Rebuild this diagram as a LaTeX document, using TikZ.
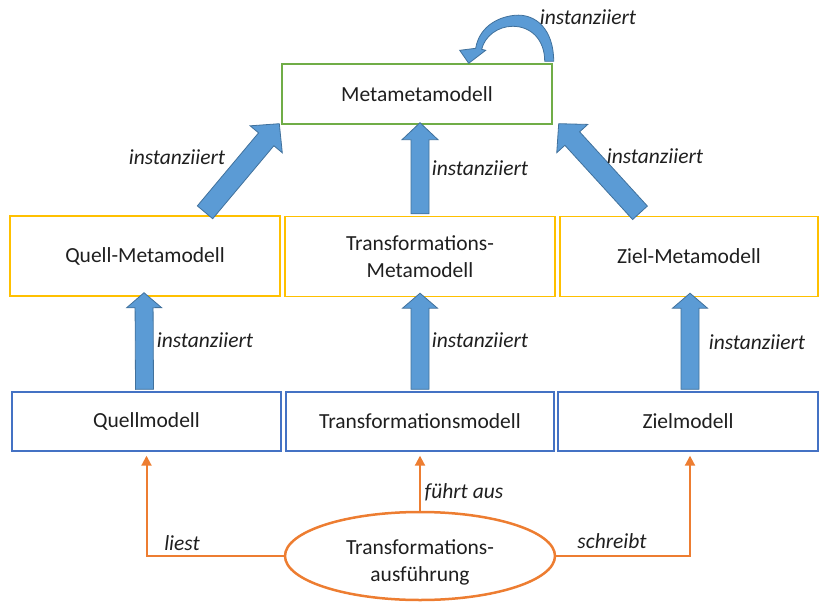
\documentclass[tikz,border=0pt]{standalone}
\usepackage{fontspec}
\setmainfont{Carlito}
\usetikzlibrary{shapes.geometric,calc,arrows.meta}
\definecolor{mmgreen}{HTML}{70AD47}
\definecolor{metayellow}{HTML}{FFC000}
\definecolor{modelblue}{HTML}{4472C4}
\definecolor{runorange}{HTML}{ED7D31}
\definecolor{arrowfill}{HTML}{5B9BD5}
\definecolor{arrowedge}{HTML}{41719C}
\definecolor{txt}{HTML}{1F1F1F}

% broad block arrow from #1 to #2: shaft half width #3, head half width #4, head length #5
\newcommand\blockarrow[5]{%
  \draw[blockarr] let \p1=(#1), \p2=(#2),
      \n1={atan2(\y2-\y1,\x2-\x1)}, \n2={veclen(\x2-\x1,\y2-\y1)} in
    ($(\p1)+(\n1+90:#3)$) -- ($(\p1)+(\n1:\n2-#5)+(\n1+90:#3)$)
    -- ($(\p1)+(\n1:\n2-#5)+(\n1+90:#4)$) -- (\p2)
    -- ($(\p1)+(\n1:\n2-#5)+(\n1-90:#4)$) -- ($(\p1)+(\n1:\n2-#5)+(\n1-90:#3)$)
    -- ($(\p1)+(\n1-90:#3)$) -- cycle;}

\begin{document}
\begin{tikzpicture}[x=1pt,y=-1pt,
  font=\fontsize{21.5}{27}\selectfont, text=txt,
  box/.style={draw, rectangle, line width=1.4pt, align=center, inner sep=0pt},
  lbl/.style={font=\fontsize{21.5}{27}\selectfont\itshape, inner sep=0pt},
  blockarr/.style={fill=arrowfill, draw=arrowedge, line width=0.8pt, line join=miter},
  runarr/.style={draw=runorange, line width=2pt,
    -{Triangle[length=10pt,width=10pt]}, shorten >=4pt}]
\useasboundingbox (0,0) rectangle (820,608);

% boxes
\node[box, draw=mmgreen, minimum width=270pt, minimum height=60pt] (mm) at (417,94) {Metametamodell};

\node[box, draw=metayellow, minimum width=270pt, minimum height=80pt] (qmm) at (145,256) {Quell-Metamodell};
\node[box, draw=metayellow, minimum width=270pt, minimum height=80pt] (tmm) at (420,256.5) {Transformations-\\Metamodell};
\node[box, draw=metayellow, minimum width=258pt, minimum height=80pt] (zmm) at (689,256.5) {Ziel-Metamodell};

\node[box, draw=modelblue, minimum width=269pt, minimum height=59pt] (qm) at (146.5,421.5) {Quellmodell};
\node[box, draw=modelblue, minimum width=268pt, minimum height=59pt] (tm) at (420,421.5) {Transformationsmodell};
\node[box, draw=modelblue, minimum width=260pt, minimum height=59pt] (zm) at (688,421.5) {Zielmodell};

\node[ellipse, draw=runorange, line width=2.5pt, minimum width=270pt, minimum height=88pt,
  inner sep=0pt,
  label={[align=center, yshift=-6pt, inner sep=0pt]center:{Transformations-\\ausführung}}]
  (ex) at (420,556) {};

% instantiation arrows
\coordinate (qbase) at ($(qmm.north)+(60,-3)$);
\coordinate (qtip) at ($(mm.south west)+(-2,-1)$);
\coordinate (zbase) at ($(zmm.north)+(-49,-3)$);
\coordinate (ztip) at ($(mm.south east)+(6,-1)$);

\blockarrow{qbase}{qtip}{10pt}{21pt}{20pt}
\blockarrow{zbase}{ztip}{10pt}{21pt}{20pt}
\blockarrow{$(tmm.north)+(0,-2)$}{$(mm.south)+(3,-2)$}{9pt}{18pt}{17pt}

\blockarrow{$(qm.north)+(-2,-2)$}{$(qmm.south)+(-1,-4)$}{9pt}{17.5pt}{15pt}
\blockarrow{$(tm.north)+(0,-2)$}{$(tmm.south)+(0,-4)$}{9pt}{17.5pt}{15pt}
\blockarrow{$(zm.north)+(2,-2)$}{$(zmm.south)+(1,-4)$}{9pt}{17.5pt}{15pt}

% self-instantiation of the metametamodel
\draw[blockarr, shift={(mm.north east)}]
  (1,-2) .. controls (1,-34) and (-17,-50) .. (-38,-48)
  .. controls (-58,-46) and (-74,-34) .. (-77,-15)
  -- (-93,-13) -- (-84,0) -- (-67,-13) -- (-71,-14)
  .. controls (-68,-27) and (-55,-37) .. (-40,-37)
  .. controls (-22,-37) and (-8,-24) .. (-8,-2) -- cycle;

% execution arrows
\draw[runarr] (ex.west) -| (qm.south);
\draw[runarr] (ex.east) -| ($(zm.south)+(2,0)$);
\draw[runarr] (ex.north) -- (tm.south);

% labels
\node[lbl] (l0) at (588,17) {instanziiert};
\node[lbl] (l1) at (177,157) {instanziiert};
\node[lbl] (l2) at (480,168) {instanziiert};
\node[lbl] (l3) at (655,156) {instanziiert};
\node[lbl] (l4) at (205,340) {instanziiert};
\node[lbl] (l5) at (480,340) {instanziiert};
\node[lbl] (l6) at (757,342) {instanziiert};
\node[lbl] (l7) at (464,492) {führt aus};
\node[lbl] (l8) at (182,543) {liest};
\node[lbl] (l9) at (612,541) {schreibt};
\end{tikzpicture}
\end{document}
